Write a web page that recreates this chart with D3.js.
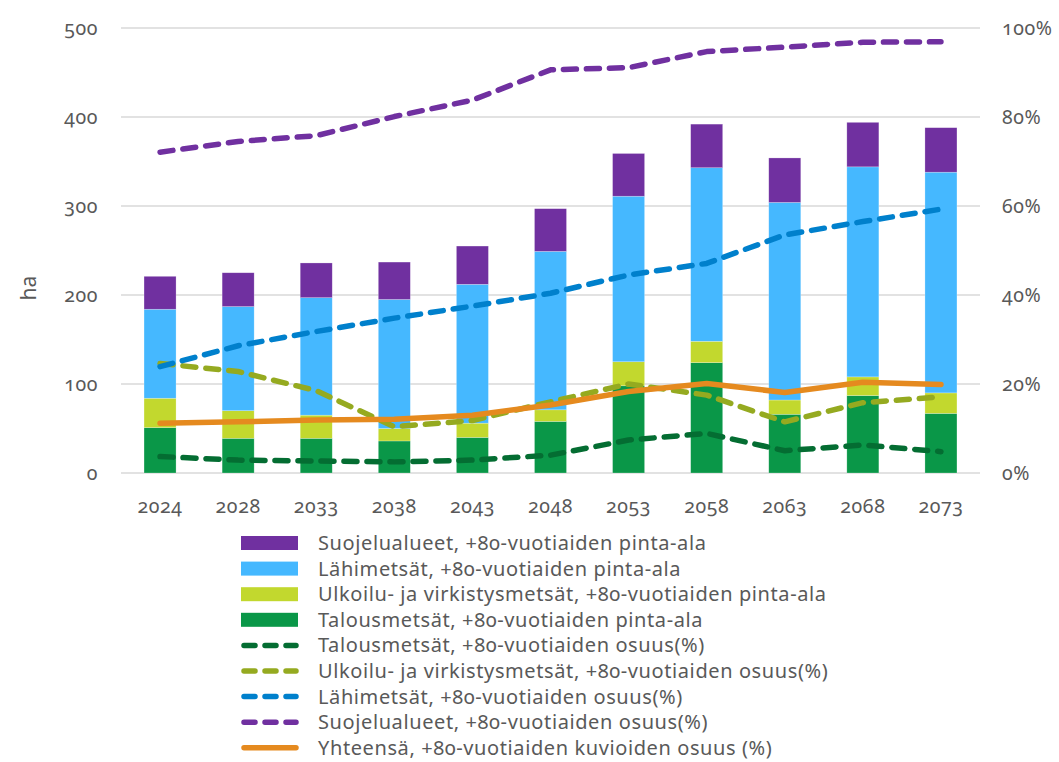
<!DOCTYPE html>
<html>
<head>
<meta charset="utf-8">
<script src="https://cdn.jsdelivr.net/npm/d3@7"></script>
<style>
  body { margin: 0; background: #fff; }
  text { font-family: "Noto Sans", sans-serif; fill: #595959; font-variant-numeric: oldstyle-nums; }
</style>
</head>
<body>
<div id="chart"></div>
<script>
// vuodet ja pinta-alat (ha)
var years = ["2024", "2028", "2033", "2038", "2043", "2048", "2053", "2058", "2063", "2068", "2073"];
var talousHa = [51, 39, 39, 36, 40, 58, 98, 124, 66, 87, 67];
var ulkoiluHa = [33, 31, 26, 14, 16, 13, 27, 24, 16, 21, 23];
var lahiHa = [100, 117, 132, 145, 156, 178, 186, 195, 222, 236, 248];
var suojeluHa = [37, 38, 39, 42, 43, 48, 48, 49, 50, 50, 50];

// osuudet (%)
var talousPct = [3.7, 2.9, 2.7, 2.5, 2.9, 4.0, 7.4, 8.9, 5.0, 6.3, 4.8];
var ulkoiluPct = [24.6, 22.8, 18.5, 10.4, 11.8, 16.0, 20.0, 17.5, 11.5, 15.8, 17.1];
var lahiPct = [23.9, 28.6, 31.8, 34.8, 37.5, 40.4, 44.5, 47.1, 53.5, 56.5, 59.3];
var suojeluPct = [72.1, 74.5, 75.8, 80.1, 83.8, 90.6, 91.1, 94.7, 95.7, 96.8, 96.9];
var yhteensaPct = [11.2, 11.5, 11.9, 12.1, 13.0, 15.3, 18.3, 20.1, 18.1, 20.4, 19.9];

var leftTicks = [0, 100, 200, 300, 400, 500];
var rightTicks = [0, 20, 40, 60, 80, 100];

var svgWidth = 1059;
var svgHeight = 762;
var margin = { top: 28, bottom: 289, left: 121, right: 79 };
var chartWidth = svgWidth - margin.left - margin.right;
var chartHeight = svgHeight - margin.top - margin.bottom;

var svg = d3.select("#chart")
    .append("svg")
    .attr("width", svgWidth)
    .attr("height", svgHeight);

var chartGroup = svg.append("g")
    .attr("transform", `translate(${margin.left}, ${margin.top})`);

var xScale = d3.scaleBand()
    .domain(years)
    .range([0, chartWidth])
    .paddingInner(0.59)
    .paddingOuter(0.295);

var yLeft = d3.scaleLinear().domain([0, 500]).range([chartHeight, 0]);
var yRight = d3.scaleLinear().domain([0, 100]).range([chartHeight, 0]);

// gridlines
chartGroup.append("g")
    .selectAll("line")
    .data(leftTicks)
    .enter()
    .append("line")
    .attr("x1", 0)
    .attr("x2", chartWidth)
    .attr("y1", d => yLeft(d))
    .attr("y2", d => yLeft(d))
    .attr("stroke", "#d9d9d9")
    .attr("stroke-width", 1.5);

var leftAxis = d3.axisLeft(yLeft).tickValues(leftTicks).tickSize(0).tickPadding(23);
var rightAxis = d3.axisRight(yRight).tickValues(rightTicks).tickSize(0).tickPadding(22)
    .tickFormat(d => d + "%");
var bottomAxis = d3.axisBottom(xScale).tickSize(0).tickPadding(26);

var gl = chartGroup.append("g").call(leftAxis);
var gr = chartGroup.append("g").attr("transform", `translate(${chartWidth}, 0)`).call(rightAxis);
var gb = chartGroup.append("g").attr("transform", `translate(0, ${chartHeight})`).call(bottomAxis);
[gl, gr, gb].forEach(function(g) {
    g.select(".domain").remove();
    g.selectAll("text").style("font-size", "19.5px").style("fill", "#595959")
        .style("letter-spacing", "0.6px")
        .style("font-family", "\"Noto Sans\", sans-serif");
});

// stacked bars
var barSeries = [
    { name: "Talousmetsät, +80-vuotiaiden pinta-ala", values: talousHa, color: "#0a9748" },
    { name: "Ulkoilu- ja virkistysmetsät, +80-vuotiaiden pinta-ala", values: ulkoiluHa, color: "#c2d82e" },
    { name: "Lähimetsät, +80-vuotiaiden pinta-ala", values: lahiHa, color: "#45b8ff" },
    { name: "Suojelualueet, +80-vuotiaiden pinta-ala", values: suojeluHa, color: "#7030a0" }
];

var table = years.map(function(y, i) {
    var row = { year: y };
    barSeries.forEach(function(s, k) { row["s" + k] = s.values[i]; });
    return row;
});

var stack = d3.stack().keys(barSeries.map((s, k) => "s" + k));
var stacked = stack(table);

chartGroup.append("g")
    .selectAll("g")
    .data(stacked)
    .enter()
    .append("g")
    .attr("fill", (d, k) => barSeries[k].color)
    .selectAll("rect")
    .data(d => d)
    .enter()
    .append("rect")
    .attr("x", d => xScale(d.data.year))
    .attr("width", xScale.bandwidth())
    .attr("y", d => yLeft(d[1]))
    .attr("height", d => yLeft(d[0]) - yLeft(d[1]))
    .attr("stroke", "#ffffff")
    .attr("stroke-opacity", 0.4)
    .attr("stroke-width", 0.6);

// lines
var lineSeries = [
    { name: "Talousmetsät, +80-vuotiaiden osuus(%)", values: talousPct, color: "#046d32", dash: "13,10" },
    { name: "Ulkoilu- ja virkistysmetsät, +80-vuotiaiden osuus(%)", values: ulkoiluPct, color: "#95aa20", dash: "13,10" },
    { name: "Lähimetsät, +80-vuotiaiden osuus(%)", values: lahiPct, color: "#0080cc", dash: "13,10" },
    { name: "Suojelualueet, +80-vuotiaiden osuus(%)", values: suojeluPct, color: "#7030a0", dash: "13,10" },
    { name: "Yhteensä, +80-vuotiaiden kuvioiden osuus (%)", values: yhteensaPct, color: "#e58a1f", dash: null }
];

var line = d3.line()
    .x((d, i) => xScale(years[i]) + xScale.bandwidth() / 2)
    .y(d => yRight(d));

lineSeries.forEach(function(s) {
    chartGroup.append("path")
        .datum(s.values)
        .attr("d", line)
        .attr("fill", "none")
        .attr("stroke", s.color)
        .attr("stroke-width", 5.5)
        .attr("stroke-linecap", "round")
        .attr("stroke-linejoin", "round")
        .attr("stroke-dasharray", s.dash);
});

// y-axis title
svg.append("text")
    .attr("transform", "translate(36, 288) rotate(-90)")
    .attr("text-anchor", "middle")
    .style("font-size", "21px")
    .text("ha");

// legend
var legendItems = barSeries.slice().reverse().map(d => ({ name: d.name, color: d.color, type: "bar" }))
    .concat(lineSeries.map(d => ({ name: d.name, color: d.color, type: d.dash ? "dash" : "line" })));

var legend = svg.append("g").attr("transform", "translate(241, 543)");
var rowH = 25.6;

legendItems.forEach(function(item, i) {
    var g = legend.append("g").attr("transform", `translate(0, ${i * rowH})`);
    if (item.type === "bar") {
        g.append("rect").attr("x", 0).attr("y", -7).attr("width", 57).attr("height", 14).attr("fill", item.color);
    } else {
        g.append("line")
            .attr("x1", 3).attr("x2", 55).attr("y1", 0).attr("y2", 0)
            .attr("stroke", item.color)
            .attr("stroke-width", 5.5)
            .attr("stroke-linecap", "round")
            .attr("stroke-dasharray", item.type === "dash" ? "11,10" : null);
    }
    g.append("text")
        .attr("x", 77)
        .attr("y", 0)
        .attr("dy", "0.35em")
        .style("font-size", "20px")
        .style("letter-spacing", "0.6px")
        .text(item.name);
});
</script>
</body>
</html>
